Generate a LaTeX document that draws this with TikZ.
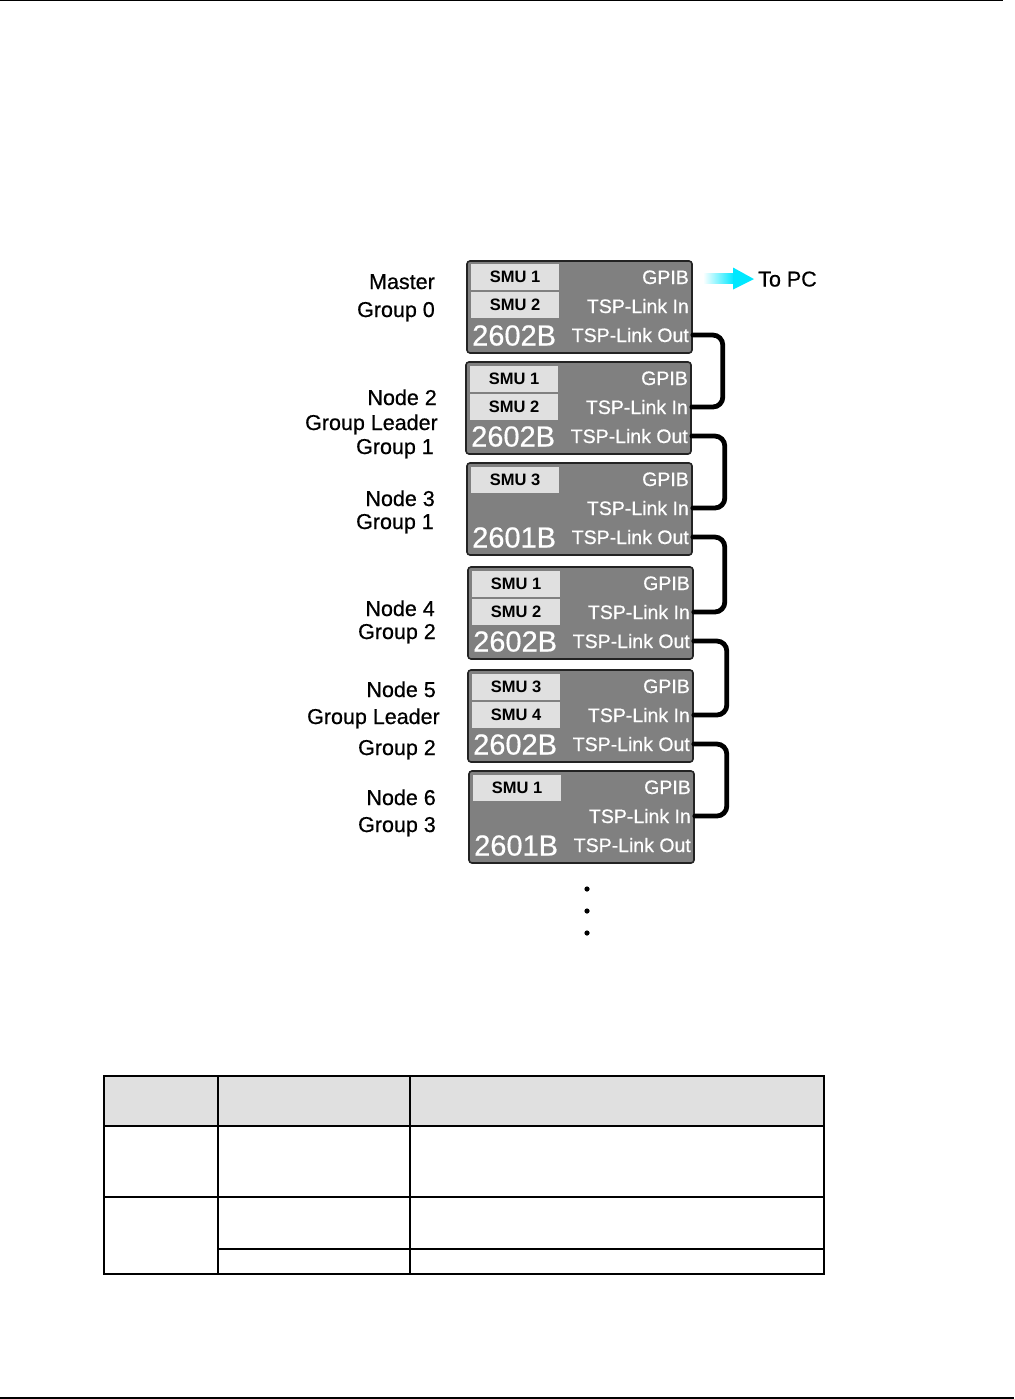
\documentclass[tikz,border=0pt]{standalone}
\usepackage{fontspec}
\usetikzlibrary{calc}
\setmainfont{Liberation Sans}
\newfontface\medfont{Liberation Sans}[FakeBold=0.6]
\definecolor{boxgray}{RGB}{128,128,128}
\definecolor{cellgray}{RGB}{224,224,224}
\definecolor{edgegray}{RGB}{35,35,35}
\definecolor{pccyan}{RGB}{0,232,255}
\tikzset{
  dev/.style={draw=edgegray, line width=1.6pt, fill=boxgray, rounded corners=3pt,
    minimum width=225pt, minimum height=92pt, inner sep=0pt},
  port/.style={anchor=base east, inner sep=0pt, text=white, font=\medfont\fontsize{19.5}{20}\selectfont},
  model/.style={anchor=base west, inner sep=0pt, text=white, font=\medfont\fontsize{29}{30}\selectfont},
  smu/.style={fill=cellgray, minimum width=88pt, minimum height=26pt, inner sep=0pt,
    font=\bfseries\fontsize{16.5}{17}\selectfont},
  lbl/.style={anchor=base east, inner sep=0pt, font=\medfont\fontsize{21.5}{22}\selectfont},
  wire/.style={line width=4.8pt, rounded corners=10pt, line cap=round},
  tbl/.style={line width=1.5pt},
}
\newcommand{\instr}[4]{%
  \node[dev] (b#1) at (#2+112.5, #3+46) {};
  \node[port] (g#1) at (#2+222, #3+23) {GPIB};
  \node[port] (i#1) at (#2+222, #3+52) {TSP-Link In};
  \node[port] (o#1) at (#2+222, #3+81) {TSP-Link Out};
  \node[model] (m#1) at (#2+5, #3+84.5) {#4};
}
\newcommand{\smucell}[4]{\node[smu] (#1) at (#2+48, #3) {#4};}
\begin{document}
\begin{tikzpicture}[x=1pt,y=-1pt]
\useasboundingbox (0,0) rectangle (1014,1399);
% page rules
\draw[line width=1.5pt] (0,0.75) -- (1003,0.75);
\draw[line width=2.2pt] (0,1397.9) -- (1014,1397.9);

% instruments
\instr{1}{467}{261}{2602B}
\smucell{s1a}{467}{277}{SMU 1}
\smucell{s1b}{467}{305}{SMU 2}
\instr{2}{466}{362}{2602B}
\smucell{s2a}{466}{378.5}{SMU 1}
\smucell{s2b}{466}{406.5}{SMU 2}
\instr{3}{467}{463}{2601B}
\smucell{s3a}{467}{479.5}{SMU 3}
\instr{4}{468}{567}{2602B}
\smucell{s4a}{468}{583.5}{SMU 1}
\smucell{s4b}{468}{611.5}{SMU 2}
\instr{5}{468}{670}{2602B}
\smucell{s5a}{468}{686.5}{SMU 3}
\smucell{s5b}{468}{714.5}{SMU 4}
\instr{6}{469}{771}{2601B}
\smucell{s6a}{469}{788}{SMU 1}

% TSP-Link wires
\draw[wire] (b1.east |- o1) -- ++(30,0) |- (b2.east |- i2);
\draw[wire] (b2.east |- o2) -- ++(33,0) |- (b3.east |- i3);
\draw[wire] (b3.east |- o3) -- ++(32,0) |- (b4.east |- i4);
\draw[wire] (b4.east |- o4) -- ++(33,0) |- (b5.east |- i5);
\draw[wire] (b5.east |- o5) -- ++(33,0) |- (b6.east |- i6);

% To PC arrow
\node[anchor=base west, inner sep=0pt, font=\medfont\fontsize{21.5}{22}\selectfont] (pc) at (758,286.5) {To PC};
\coordinate (pcs) at (703,278.5);
\shade[left color=white, right color=pccyan] (pcs) ++(0,-5) -- ++(31,0) -- ++(0,10) -- ++(-31,0) -- cycle;
\fill[pccyan] (pcs) ++(30,-11) -- ($(pc.west)+(-4,0)$) -- ($(pcs)+(30,11)$) -- cycle;

% left labels
\node[lbl] (l1a) at (435,289) {Master};
\node[lbl] (l1b) at (435,317) {Group 0};
\node[lbl] (l2a) at (437,405) {Node 2};
\node[lbl] (l2b) at (438,430) {Group Leader};
\node[lbl] (l2c) at (434,454) {Group 1};
\node[lbl] (l3a) at (435,506) {Node 3};
\node[lbl] (l3b) at (434,529) {Group 1};
\node[lbl] (l4a) at (435,616) {Node 4};
\node[lbl] (l4b) at (436,639) {Group 2};
\node[lbl] (l5a) at (436,697) {Node 5};
\node[lbl] (l5b) at (440,724) {Group Leader};
\node[lbl] (l5c) at (436,755) {Group 2};
\node[lbl] (l6a) at (436,805) {Node 6};
\node[lbl] (l6b) at (436,832) {Group 3};

% continuation dots
\foreach \yy in {889,911,933} \fill (587,\yy) circle (2.6pt);

% table
\fill[cellgray] (104,1076) rectangle (824,1126);
\draw[tbl] (104,1076) rectangle (824,1274);
\draw[tbl] (104,1126) -- (824,1126);
\draw[tbl] (104,1197) -- (824,1197);
\draw[tbl] (218,1249) -- (824,1249);
\draw[tbl] (218,1076) -- (218,1274);
\draw[tbl] (410,1076) -- (410,1274);
\end{tikzpicture}
\end{document}
